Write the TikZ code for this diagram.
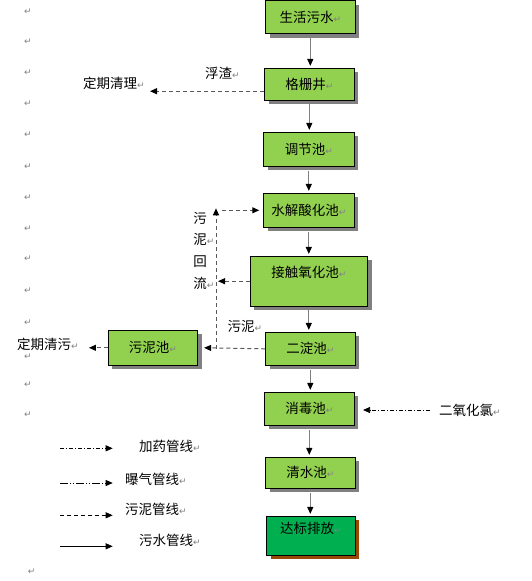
\documentclass[tikz,border=0pt]{standalone}
\usepackage{fontspec}
\newfontfamily\cjk{Noto Sans CJK SC}
\newfontfamily\markfont{DejaVu Sans}
\usetikzlibrary{arrows.meta,shadows}
\definecolor{box-green}{HTML}{92D050}
\definecolor{out-green}{HTML}{00B050}
\definecolor{box-shadow}{HTML}{808080}
\definecolor{out-shadow}{HTML}{984807}
\definecolor{mud-gray}{gray}{0.35}
\newcommand{\retmark}{{\markfont\fontsize{9}{9}\selectfont\textcolor{gray}{↵}}}

\tikzset{
	tank/.style={draw=black, line width=0.8pt, fill=box-green, minimum width=89.3pt, minimum height=33pt, inner sep=0pt,
		drop shadow={shadow xshift=4pt, shadow yshift=-4pt, fill=box-shadow, opacity=1},
		font=\cjk\fontsize{13.5}{16}\selectfont},
	lbl/.style={inner sep=0pt, font=\cjk\fontsize{13.5}{16}\selectfont},
	retm/.style={inner sep=0pt},
	tip/.style={-{Triangle[length=7pt,width=6pt,black]}},
	flow/.style={tip, draw=box-shadow, line width=1.2pt, shorten <=4pt, shorten >=2pt},
	mud/.style={tip, draw=mud-gray, line width=1pt, dash pattern=on 4pt off 3pt},
	dose/.style={tip, draw=black, line width=0.8pt, dash pattern=on 4pt off 2pt on 1pt off 2pt},
	air/.style={tip, draw=black, line width=0.8pt, dash pattern=on 8pt off 2pt on 1pt off 2pt on 1pt off 2pt},
	sewage/.style={tip, draw=black, line width=0.8pt}
}

\begin{document}
\begin{tikzpicture}[x=1pt,y=-1pt]

			\useasboundingbox (0,0) rectangle (532,581);

			\node[retm] at (28,11.7) {\retmark};
			\node[retm] at (28,41.7) {\retmark};
			\node[retm] at (28,72.7) {\retmark};
			\node[retm] at (28,103.3) {\retmark};
			\node[retm] at (28,134.3) {\retmark};
			\node[retm] at (28,166.7) {\retmark};
			\node[retm] at (28,197.3) {\retmark};
			\node[retm] at (28,228.3) {\retmark};
			\node[retm] at (28,259) {\retmark};
			\node[retm] at (28,291) {\retmark};
			\node[retm] at (28,322.7) {\retmark};
			\node[retm] at (28,357) {\retmark};
			\node[retm] at (28,385) {\retmark};
			\node[retm] at (28,415) {\retmark};
			\node[retm] at (31.7,571.7) {\retmark};

			\node[tank] (src) at (310.3,17.3) {生活污水\retmark};
			\node[tank, minimum height=31.7pt] (grid) at (309.3,84.2) {格栅井\retmark};
			\node[tank, minimum width=90.3pt, minimum height=34pt] (adj) at (308.8,149.3) {调节池\retmark};
			\node[tank, minimum width=90.3pt, minimum height=34pt] (hyd) at (308.8,210.3) {水解酸化池\retmark};
			\node[tank, minimum width=117.7pt, minimum height=49.7pt] (oxi) at (308.8,281.2) {\raisebox{4pt}[0pt][0pt]{接触氧化池\retmark}};
			\node[tank] (sed) at (310.3,348.8) {二淀池\retmark};
			\node[tank, minimum height=35pt] (pit) at (153,347.8) {污泥池\retmark};
			\node[tank] (dis) at (309.3,408.8) {消毒池\retmark};
			\node[tank, minimum height=31pt] (clear) at (310.3,472.8) {清水池\retmark};
			\node[tank, fill=out-green, minimum width=88.3pt, minimum height=39pt,
				drop shadow={shadow xshift=4pt, shadow yshift=-4pt, fill=out-shadow, opacity=1}] (out) at (310.8,535.8) {\raisebox{2pt}[0pt][0pt]{达标排放\retmark}};

			\draw[flow] (src.south) -- (src.south |- grid.north);
			\draw[flow] (grid.south) -- (grid.south |- adj.north);
			\draw[flow] (adj.south) -- (adj.south |- hyd.north);
			\draw[flow] (hyd.south) -- (hyd.south |- oxi.north);
			\draw[flow] (oxi.south) -- (oxi.south |- sed.north);
			\draw[flow] (sed.south) -- (sed.south |- dis.north);
			\draw[flow] (dis.south) -- (dis.south |- clear.north);
			\draw[flow] (clear.south) -- (clear.south |- out.north);

			% scum
			\node[lbl] (scum) at (222.5,73) {浮渣\retmark};
			\node[lbl] (cleanup) at (114,83) {定期清理\retmark};
			\coordinate (clean) at (150,91.2);
			\draw[mud] ([yshift=-7pt]grid.west) -- (clean);

			% sludge
			\node[lbl] (sludge) at (245,326.7) {污泥\retmark};
			\node[lbl, align=center, font=\cjk\fontsize{13.5}{21.7}\selectfont] (return) at (200,250.5) {污\\泥\rlap{\retmark}\\回\\流\rlap{\retmark}};
			\coordinate (back) at (216,348.8);
			\coordinate (turn) at (216,210.3);
			\draw[mud] (sed.west) -- ([xshift=6pt]pit.east);
			\draw[mud] (back) -- ([yshift=2pt]turn);
			\draw[mud] ([xshift=6pt]turn) -- ([xshift=-4pt]hyd.west);
			\draw[mud] (oxi.west) -- ([xshift=2pt]oxi.west -| back);

			\node[lbl] (manual) at (48,344) {定期清污\retmark};
			\draw[mud] (pit.west) -- ([xshift=-19pt]pit.west);

			% dosing
			\node[lbl] (chlorine) at (470,410) {二氧化氯\retmark};
			\draw[dose] ([xshift=-9pt]chlorine.west) -- ([xshift=8.7pt]chlorine.west -| dis.east);

			% legend
			\coordinate (k1) at (60,448.3);
			\coordinate (k2) at (60,483);
			\coordinate (k3) at (60,515.3);
			\coordinate (k4) at (60,546.3);
			\node[lbl] (dose-key) at (170,446) {加药管线\retmark};
			\node[lbl] (air-key) at (156,479.3) {曝气管线\retmark};
			\node[lbl] (mud-key) at (156,509.3) {污泥管线\retmark};
			\node[lbl] (sewage-key) at (170,540.7) {污水管线\retmark};
			\draw[dose] (k1) -- ([xshift=52.7pt]k1);
			\draw[air] (k2) -- ([xshift=52.7pt]k2);
			\draw[mud, draw=black, line width=0.8pt] (k3) -- ([xshift=52.7pt]k3);
			\draw[sewage] (k4) -- ([xshift=52.7pt]k4);

\end{tikzpicture}
\end{document}
